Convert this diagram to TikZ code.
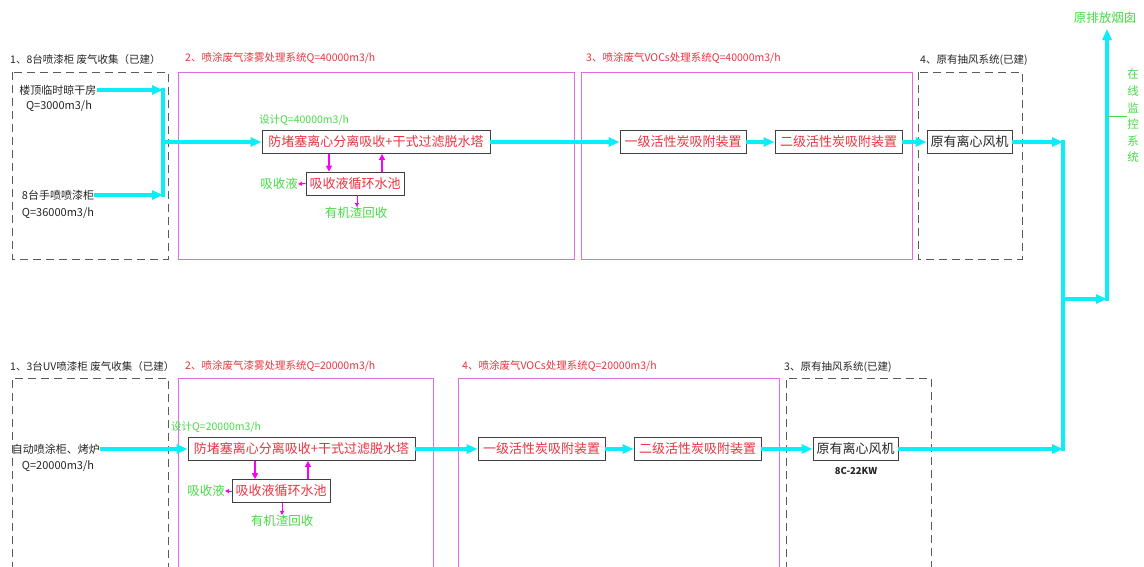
\documentclass[tikz,border=0pt]{standalone}
\usepackage{fontspec}
\setmainfont{Noto Sans CJK SC}
\usetikzlibrary{arrows.meta}
\definecolor{flowc}{RGB}{10,238,250}
\definecolor{mbox}{RGB}{225,105,225}
\definecolor{marr}{RGB}{250,0,250}
\definecolor{redt}{RGB}{232,52,64}
\definecolor{greent}{RGB}{70,220,70}
\definecolor{dgray}{RGB}{90,90,90}
\tikzset{
  x=1pt, y=-1pt,
  dbox/.style={draw=dgray, line width=0.9pt, dash pattern=on 8pt off 5pt},
  mgbox/.style={draw=mbox, line width=0.9pt},
  proc/.style={draw=black!75, line width=0.8pt, rectangle, inner sep=0pt, minimum height=23pt, text=redt, font=\fontsize{13}{13}\selectfont},
  fanbox/.style={proc, text=black!85},
  title/.style={anchor=west, inner sep=0pt, font=\fontsize{10.5}{10.5}\selectfont},
  lbl/.style={inner sep=0pt, font=\fontsize{11}{11}\selectfont, text=black!85},
  glbl/.style={inner sep=0pt, font=\fontsize{12.5}{12.5}\selectfont, text=greent},
  flow/.style={draw=flowc, line width=3.6pt, -{Triangle[length=11pt,width=9pt]}},
  flowline/.style={draw=flowc, line width=3.6pt},
  marrow/.style={draw=marr, line width=1.8pt, -{Triangle[length=6pt,width=6pt]}},
  msmall/.style={draw=marr, line width=1pt, -{Triangle[length=4pt,width=4pt]}}
}
\begin{document}
\begin{tikzpicture}
\useasboundingbox (0,0) rectangle (1144,566);
\fill[white] (0,0) rectangle (1144,566);

% ---------- top row containers ----------
\draw[dbox] (12,72) rectangle (168,259);
\draw[mgbox] (178,72) rectangle (574,259);
\draw[mgbox] (581,72) rectangle (912,259);
\draw[dbox] (918,72) rectangle (1022,259);

\node[title, text=black!85] (tt1) at (10,60) {1、8台喷漆柜 废气收集（已建）};
\node[title, text=redt] (tt2) at (185,58) {2、喷涂废气漆雾处理系统Q=40000m3/h};
\node[title, text=redt] (tt3) at (586,58) {3、喷涂废气VOCs处理系统Q=40000m3/h};
\node[title, text=black!85] (tt4) at (920,60) {4、原有抽风系统(已建)};

% inputs top
\node[lbl] (in1a) at (58,90) {楼顶临时晾干房};
\node[lbl] (in1b) at (59,106) {Q=3000m3/h};
\node[lbl] (in2a) at (58,195) {8台手喷喷漆柜};
\node[lbl] (in2b) at (58,213) {Q=36000m3/h};
\coordinate (j1) at (163,90);
\coordinate (j2) at (163,195);
\coordinate (jm) at (163,142);

% process top
\node[proc, minimum width=228pt] (T1) at (376,142) {防堵塞离心分离吸收+干式过滤脱水塔};
\node[glbl, anchor=west, font=\fontsize{10.5}{10.5}\selectfont] (d1) at (259,120) {设计Q=40000m3/h};
\node[proc, minimum width=98pt] (P1) at (355,183.5) {吸收液循环水池};
\node[glbl, anchor=east] (a1) at (298,184) {吸收液};
\node[glbl] (r1) at (356,213) {有机渣回收};
\node[proc, minimum width=126pt] (C1) at (683,142) {一级活性炭吸附装置};
\node[proc, minimum width=127pt] (C2) at (838.5,142) {二级活性炭吸附装置};
\node[fanbox, minimum width=85pt] (F1) at (969.5,142) {原有离心风机};

% ---------- bottom row containers ----------
\draw[dbox] (12,570) -- (12,378) -- (168,378) -- (168,570);
\draw[mgbox] (178,570) -- (178,378) -- (433,378) -- (433,570);
\draw[mgbox] (458,570) -- (458,378) -- (779,378) -- (779,570);
\draw[dbox] (786,570) -- (786,378) -- (931,378) -- (931,570);

\node[title, text=black!85] (bt1) at (10,367) {1、3台UV喷漆柜 废气收集（已建）};
\node[title, text=redt] (bt2) at (185,366) {2、喷涂废气漆雾处理系统Q=20000m3/h};
\node[title, text=redt] (bt4) at (462,366) {4、喷涂废气VOCs处理系统Q=20000m3/h};
\node[title, text=black!85] (bt3) at (784,367) {3、原有抽风系统(已建)};

\node[lbl] (in3a) at (56,449) {自动喷涂柜、烤炉};
\node[lbl] (in3b) at (58,466) {Q=20000m3/h};

\node[proc, minimum width=227pt] (T2) at (301.5,449) {防堵塞离心分离吸收+干式过滤脱水塔};
\node[glbl, anchor=west, font=\fontsize{10.5}{10.5}\selectfont] (d2) at (171,427) {设计Q=20000m3/h};
\node[proc, minimum width=98pt] (P2) at (281,491) {吸收液循环水池};
\node[glbl, anchor=east] (a2) at (225,491) {吸收液};
\node[glbl] (r2) at (282,521) {有机渣回收};
\node[proc, minimum width=127pt] (C3) at (541.5,449) {一级活性炭吸附装置};
\node[proc, minimum width=127pt] (C4) at (697.5,449) {二级活性炭吸附装置};
\node[fanbox, minimum width=85pt] (F2) at (855.5,449) {原有离心风机};
\node[inner sep=0pt, font=\fontsize{9.5}{9.5}\selectfont\bfseries, text=black!85] (kw) at (856,471) {8C-22KW};

% ---------- right side ----------
\coordinate (k1) at (1063,142);
\coordinate (k2) at (1063,449);
\coordinate (k3) at (1063,299);
\coordinate (s0) at (1107,299);
\coordinate (s1) at (1107,29);
\coordinate (s2) at (1107,116);
\node[glbl, font=\fontsize{12.5}{12.5}\selectfont] (chim) at (1105,18) {原排放烟囱};
\node[glbl, align=center, font=\fontsize{11.5}{16.6}\selectfont] (mon) at (1133,116) {在\\线\\监\\控\\系\\统};

% ---------- connectors ----------
\draw[flow] (in1a.east) -- (j1);
\draw[flow] (in2a.east) -- (j2);
\draw[flowline] ([yshift=1.8pt]j1) -- ([yshift=-1.8pt]j2);
\draw[flow] (jm) -- (T1.west);
\draw[flow] (T1.east) -- (C1.west);
\draw[flow] (C1.east) -- (C2.west);
\draw[flow] (C2.east) -- (F1.west);
\draw[flow] (F1.east) -- (k1);

\draw[marrow] (T1.south -| 329,0) -- (P1.north -| 329,0);
\draw[marrow] (P1.north -| 382,0) -- (T1.south -| 382,0);
\draw[msmall] (P1.west) -- (a1.east);
\draw[msmall] (P1.south -| 357,0) -- (r1.north -| 357,0);

\draw[flow] (in3a.east) -- (T2.west);
\draw[flow] (T2.east) -- (C3.west);
\draw[flow] (C3.east) -- (C4.west);
\draw[flow] (C4.east) -- (F2.west);
\draw[flow] (F2.east) -- (k2);

\draw[marrow] (T2.south -| 255,0) -- (P2.north -| 255,0);
\draw[marrow] (P2.north -| 308,0) -- (T2.south -| 308,0);
\draw[msmall] (P2.west) -- (a2.east);
\draw[msmall] (P2.south -| 282,0) -- (r2.north -| 282,0);

\draw[flowline] ([yshift=1.8pt]k1) -- ([yshift=-1.8pt]k2);
\draw[flow] (k3) -- (s0);
\draw[flowline] ([yshift=-1.8pt]s0) -- (s2);
\draw[flow] (s2) -- (s1);
\draw[draw=greent, line width=1pt] (s2) -- (mon.west);
\end{tikzpicture}
\end{document}
